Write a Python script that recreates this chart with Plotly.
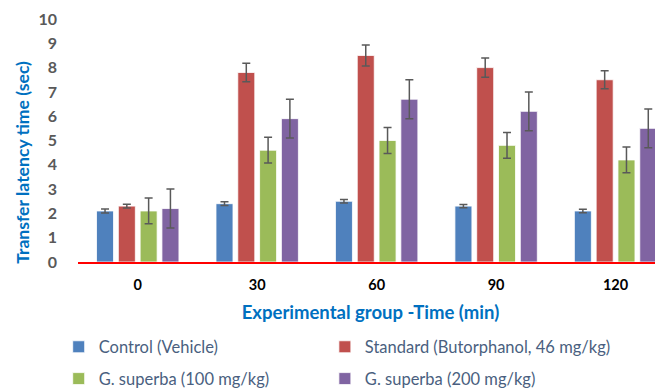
import plotly.graph_objects as go

categories = ["0", "30", "60", "90", "120"]
series_names = ["Control (Vehicle)", "Standard (Butorphanol, 46 mg/kg)",
                "G. superba (100 mg/kg)", "G. superba (200 mg/kg)"]
control = [2.1, 2.4, 2.5, 2.3, 2.1]
control_err = [0.08, 0.08, 0.07, 0.07, 0.07]
standard = [2.3, 7.8, 8.5, 8.0, 7.5]
standard_err = [0.08, 0.38, 0.43, 0.4, 0.37]
gs100 = [2.1, 4.6, 5.0, 4.8, 4.2]
gs100_err = [0.53, 0.53, 0.53, 0.53, 0.53]
gs200 = [2.2, 5.9, 6.7, 6.2, 5.5]
gs200_err = [0.8, 0.8, 0.8, 0.8, 0.8]

colors = ["#4F81BD", "#C0504D", "#9BBB59", "#8064A2"]
values = [control, standard, gs100, gs200]
errors = [control_err, standard_err, gs100_err, gs200_err]
legend_ids = ["legend", "legend2", "legend3", "legend4"]
legend_pos = [(-0.033, -0.35), (0.422, -0.35), (-0.033, -0.481), (0.422, -0.481)]

font = "Lato"
fig = go.Figure()
for name, v, e, c, lg in zip(series_names, values, errors, colors, legend_ids):
    fig.add_trace(go.Bar(
        x=categories, y=v, name=name, legend=lg, showlegend=True,
        marker=dict(color=c, line=dict(color="rgba(255,255,255,0.8)", width=1)),
        error_y=dict(type="data", array=e, visible=True, color="#595959",
                     thickness=1.5, width=4),
    ))

legend_common = dict(orientation="h",
                     font=dict(family=font, size=16.5, color="#4A5F80"),
                     xanchor="left", yanchor="middle", bgcolor="rgba(0,0,0,0)",
                     itemwidth=30)
legend_layout = {lg: dict(x=px, y=py, **legend_common)
                 for lg, (px, py) in zip(legend_ids, legend_pos)}

fig.update_layout(
    width=663, height=389, showlegend=True,
    margin=dict(l=70, r=8, t=11, b=135, autoexpand=False),
    paper_bgcolor="white", plot_bgcolor="white",
    barmode="group", bargap=0.27, bargroupgap=0.22,
    font=dict(family=font),
    xaxis=dict(
        type="category", range=[-0.5, 4.397], automargin=False,
        showline=True, linecolor="#FF0000", linewidth=1.5,
        showgrid=False, ticks="", ticklabelstandoff=9,
        tickfont=dict(family=font, size=14.5, color="#000000", weight="bold"),
        title=dict(text="Experimental group -Time (min)", standoff=14,
                   font=dict(family=font, size=18.5, color="#0070C0", weight="bold")),
    ),
    yaxis=dict(
        range=[0, 10], dtick=1, showgrid=False, showline=False, zeroline=False,
        ticks="", ticklabelstandoff=20, automargin=False,
        tickfont=dict(family=font, size=16, color="#595959", weight="bold"),
    ),
    annotations=[dict(
        text="Transfer latency time (sec)", textangle=-90,
        xref="paper", yref="paper", x=-0.095, y=0.41,
        xanchor="center", yanchor="middle", showarrow=False,
        font=dict(family=font, size=17.6, color="#0070C0", weight="bold"),
    )],
    **legend_layout,
)

fig.write_html("out.html")
